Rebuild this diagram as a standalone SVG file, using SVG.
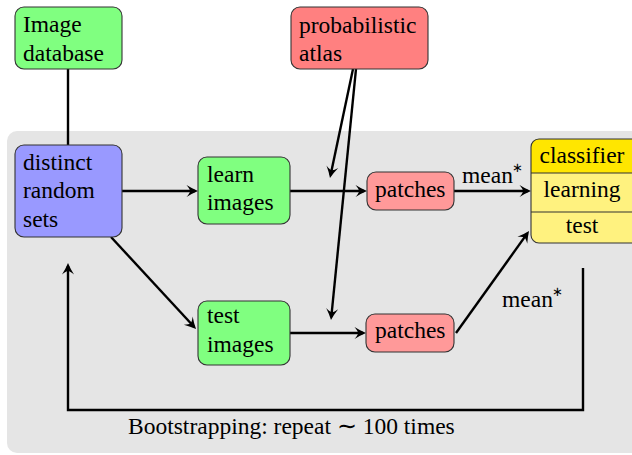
<svg xmlns="http://www.w3.org/2000/svg" width="632" height="455" viewBox="0 0 632 455" font-family="Liberation Serif, serif" font-size="23.5">
<style>
.box{stroke:#333;stroke-width:1.1}
.green{fill:#80ff80}
.red{fill:#ff8080}
.pink{fill:#ff9999}
.blue{fill:#9999ff}
.ln{fill:none;stroke:#000;stroke-width:2.4}
.arr{marker-end:url(#ah)}
.t{font-family:'Liberation Serif',serif}
.sup{font-family:'DejaVu Sans',sans-serif;font-size:13px}
</style>
<defs>
<marker id="ah" markerUnits="userSpaceOnUse" viewBox="-13 -7 17 14" markerWidth="17" markerHeight="14" refX="-3" refY="0" orient="auto">
<path d="M0,0 Q-6,-2.5 -11.5,-6 Q-8,-2 -8,0 Q-8,2 -11.5,6 Q-6,2.5 0,0 Z" fill="#000"/>
</marker>
<clipPath id="clsClip"><rect x="531" y="139" width="110" height="104" rx="8"/></clipPath>
</defs>
<rect id="background" x="7" y="131" width="640" height="322" rx="10" fill="#e5e5e5"/>
<g id="connectors">
<line class="ln" x1="68" y1="69" x2="68" y2="145"/>
<line class="ln arr" x1="122" y1="191" x2="195" y2="191"/>
<line class="ln arr" x1="290" y1="191" x2="364" y2="191"/>
<line class="ln arr" x1="454" y1="191" x2="528" y2="191"/>
<line class="ln arr" x1="111" y1="237" x2="194" y2="326.8"/>
<line class="ln arr" x1="290" y1="333" x2="363" y2="333"/>
<line class="ln arr" x1="456" y1="333" x2="527.3" y2="233.4"/>
<line class="ln arr" x1="353" y1="69" x2="330.6" y2="175.1"/>
<line class="ln arr" x1="356" y1="69" x2="331.3" y2="317"/>
<path class="ln arr" d="M583,268 V410 H68 V266"/>
<text x="462" y="183">mean</text>
<text class="sup" x="512" y="172">∗</text>
<text x="502" y="307">mean</text>
<text class="sup" x="552" y="296">∗</text>
<text x="128" y="434">Bootstrapping: repeat ∼ 100 times</text>
</g>
<g id="image-database">
<rect class="box green" x="15" y="7" width="107" height="62" rx="9"/>
<text class="t" x="23" y="32">Image</text>
<text class="t" x="23" y="61">database</text>
</g>
<g id="probabilistic-atlas">
<rect class="box red" x="291" y="7" width="137" height="62" rx="9"/>
<text class="t" x="299" y="33">probabilistic</text>
<text class="t" x="299" y="61">atlas</text>
</g>
<g id="distinct-random-sets">
<rect class="box blue" x="15" y="145" width="107" height="92" rx="9"/>
<text class="t" x="23" y="170">distinct</text>
<text class="t" x="23" y="198">random</text>
<text class="t" x="23" y="227">sets</text>
</g>
<g id="learn-images">
<rect class="box green" x="198" y="157" width="92" height="67" rx="9"/>
<text class="t" x="207" y="182">learn</text>
<text class="t" x="207" y="210">images</text>
</g>
<g id="test-images">
<rect class="box green" x="198" y="301" width="92" height="64" rx="9"/>
<text class="t" x="207" y="323">test</text>
<text class="t" x="207" y="352">images</text>
</g>
<g id="patches-learn">
<rect class="box pink" x="367" y="172" width="87" height="38" rx="9"/>
<text class="t" x="375" y="197">patches</text>
</g>
<g id="patches-test">
<rect class="box pink" x="366" y="314" width="88" height="38" rx="9"/>
<text class="t" x="375" y="338">patches</text>
</g>
<g id="classifier">
<g clip-path="url(#clsClip)">
<rect x="531" y="139" width="110" height="104" fill="#fff27f"/>
<rect x="531" y="139" width="110" height="34" fill="#ffe600"/>
</g>
<line x1="531" y1="173" x2="632" y2="173" stroke="#333" stroke-width="1.1"/>
<line x1="531" y1="212" x2="632" y2="212" stroke="#333" stroke-width="1.1"/>
<rect x="531" y="139" width="110" height="104" rx="8" fill="none" stroke="#333" stroke-width="1.1"/>
<text class="t" x="582" y="163" text-anchor="middle">classifier</text>
<text class="t" x="582" y="197" text-anchor="middle">learning</text>
<text class="t" x="582" y="233" text-anchor="middle">test</text>
</g>
</svg>
